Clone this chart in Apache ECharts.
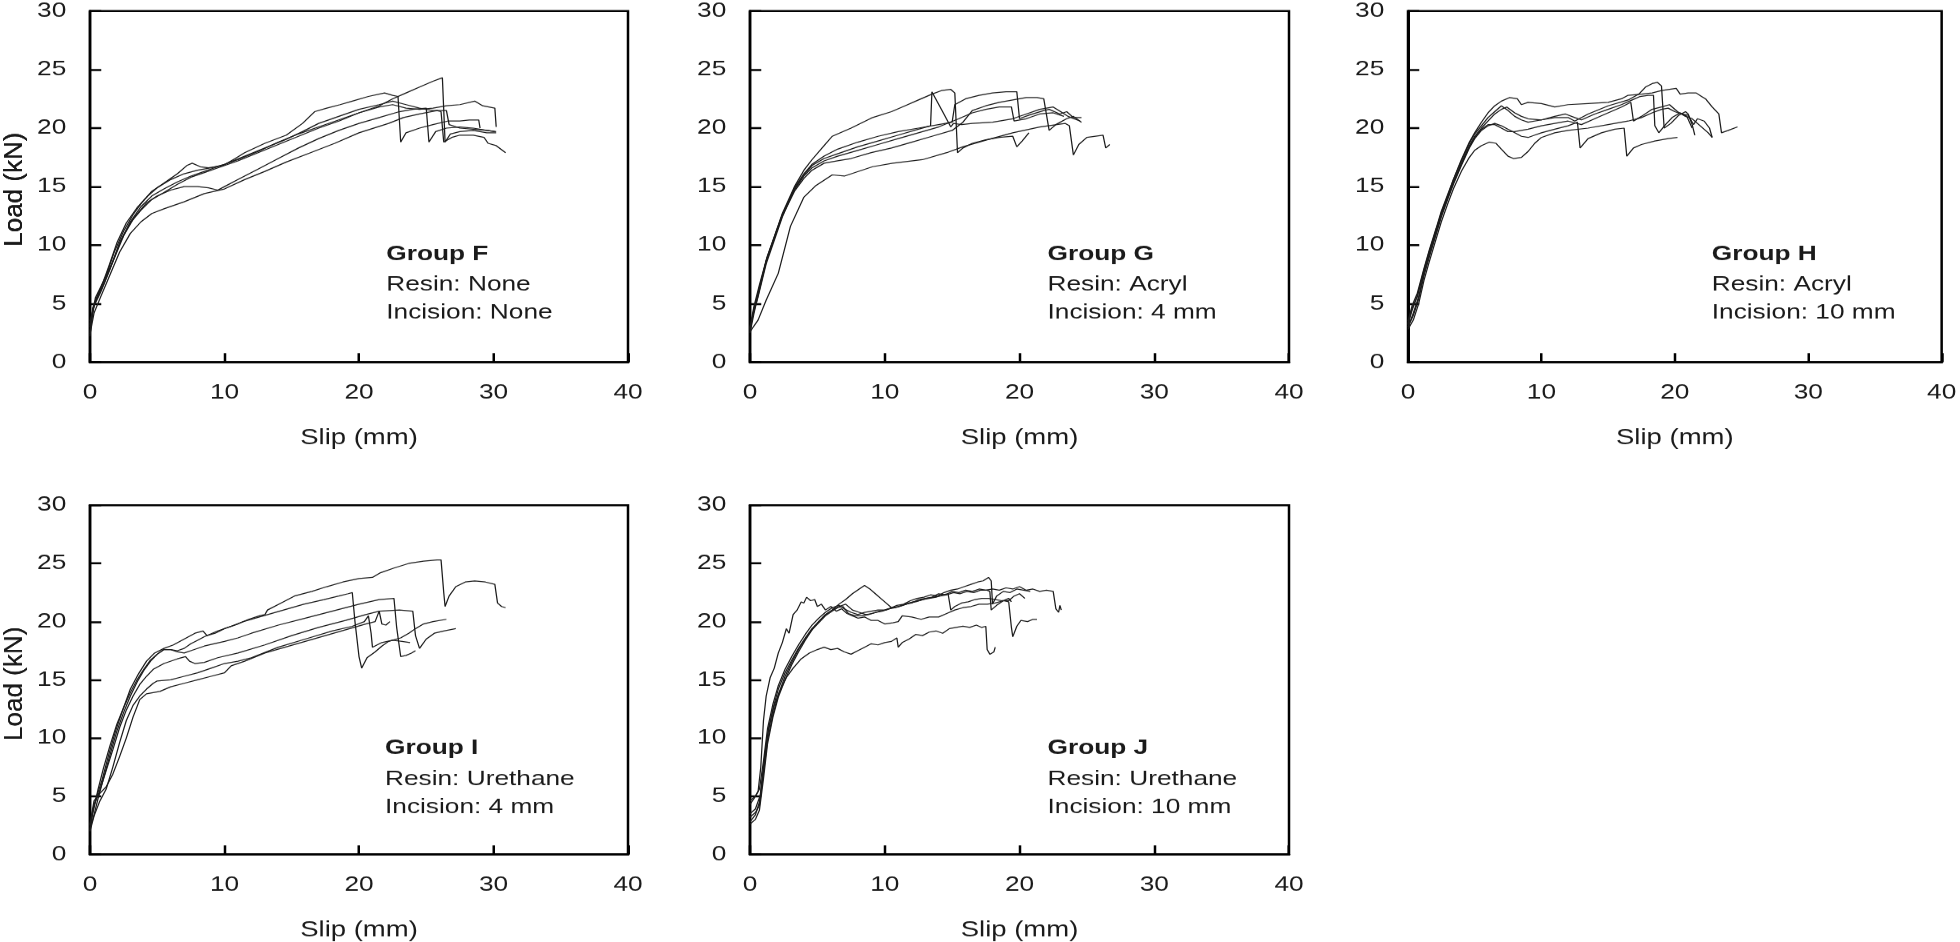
<!DOCTYPE html>
<html><head><meta charset="utf-8">
<script src="https://cdn.jsdelivr.net/npm/echarts@6/dist/echarts.min.js"></script>
<style>
html,body{margin:0;padding:0;background:#fff;overflow:hidden}
/* the reference figure is stretched 1.25x horizontally; reproduce that */
#c{width:1568px;height:942px;transform:scaleX(1.25);transform-origin:0 0}
</style>
</head><body><div id="c"></div>
<script>
// ---- Axis ticks ----
const xTicks = [0, 10, 20, 30, 40];
const yTicks = [0, 5, 10, 15, 20, 25, 30];
const xName = 'Slip (mm)';
const yName = 'Load (kN)';

// ---- Group labels ----
const labelsF = ['Group F', 'Resin: None', 'Incision: None'];
const labelsG = ['Group G', 'Resin: Acryl', 'Incision: 4 mm'];
const labelsH = ['Group H', 'Resin: Acryl', 'Incision: 10 mm'];
const labelsI = ['Group I', 'Resin: Urethane', 'Incision: 4 mm'];
const labelsJ = ['Group J', 'Resin: Urethane', 'Incision: 10 mm'];

// ---- Group F (slip mm, load kN) ----
const F1 = [[0,2.2],[0.2,4.6],[0.6,5.8],[1.2,7.4],[1.8,9.4],[2.5,11.2],[3.2,12.6],[3.9,13.7],[4.6,14.6],[5.5,15.3],[6.5,16.1],[7.2,16.8],[7.6,17.0],[8.2,16.7],[8.8,16.6],[9.9,16.8],[10.8,17.4],[11.5,17.9],[13.0,18.7],[14.6,19.4],[15.8,20.4],[16.7,21.4],[17.6,21.7],[18.6,22.0],[19.5,22.3],[20.7,22.7],[21.9,23.0],[22.5,22.8],[22.9,22.7],[23.1,18.8],[23.5,19.6],[24.5,20.0],[25.5,20.3],[26.6,20.6],[27.5,20.6],[28.2,20.7],[28.9,20.7],[29.0,20.0]];
const F2 = [[0,2.6],[0.3,4.8],[0.8,6.0],[1.5,8.0],[2.2,10.2],[3,11.9],[3.8,13.0],[4.6,13.9],[5.5,14.5],[6.5,15.2],[7.5,15.8],[8.5,16.2],[9.5,16.6],[11,17.2],[12.5,17.9],[14,18.6],[15.5,19.3],[17,20.0],[18.5,20.6],[20,21.3],[21.5,21.9],[22.5,22.5],[23.5,23.0],[24.5,23.5],[25.5,24.0],[26.2,24.3],[26.4,18.8],[26.8,19.5],[27.5,19.7],[28.5,19.8],[29.5,19.6],[30.2,19.6]];
const F3 = [[0,3.5],[0.4,5.2],[1,6.6],[1.6,8.3],[2.3,10.4],[3,12.0],[3.8,13.3],[4.6,14.2],[5.5,14.8],[6.5,15.4],[7.5,15.9],[8.5,16.3],[9.5,16.7],[11,17.3],[12.5,18.0],[14,18.8],[15.5,19.5],[17,20.1],[18.5,20.7],[20,21.3],[21.5,21.8],[22.5,22.0],[23.5,21.7],[24.5,21.6],[25.5,21.7],[26.5,21.9],[27.5,22.0],[28.6,22.3],[29.2,21.9],[30.1,21.7],[30.2,20.1]];
const F4 = [[0,3],[0.4,5.5],[1,6.9],[1.7,8.6],[2.5,10.8],[3.3,12.4],[4.2,13.6],[5,14.2],[6,14.7],[7,15.0],[8,15.0],[8.8,14.9],[9.5,14.7],[10,15.0],[11,15.6],[12.5,16.5],[14,17.4],[15.5,18.3],[17,19.1],[18.5,19.8],[20,20.4],[21.5,20.9],[23,21.4],[24,21.6],[25,21.7],[25.2,18.8],[25.7,19.7],[26.5,20.0],[27.5,20.1],[28.5,20.0],[29.5,19.8],[30.1,19.7]];
const F5 = [[0,2.4],[0.3,4.2],[0.8,5.6],[1.5,7.5],[2.2,9.4],[3,11.0],[3.8,12.0],[4.6,12.7],[5.5,13.1],[7,13.7],[8.5,14.4],[10,14.8],[11.5,15.6],[13,16.3],[14.6,17.1],[16.4,17.9],[18.2,18.7],[20,19.6],[22.2,20.4],[23.3,20.9],[24.5,21.2],[25.8,21.5],[26.1,21.4],[26.3,18.8],[26.9,19.2],[27.5,19.4],[28.5,19.4],[29.3,19.2],[29.6,18.7],[30.2,18.5],[30.9,17.9]];
const F6 = [[0,3.2],[0.3,5.0],[0.8,6.3],[1.4,8.2],[2.0,10.2],[2.7,11.9],[3.5,13.2],[4.3,14.2],[5,14.9],[6,15.6],[7,16.1],[8,16.4],[9,16.6],[10,16.9],[11.5,17.6],[13,18.3],[14.5,19.0],[15.8,19.7],[17,20.4],[18.5,21.0],[20,21.6],[21.5,22.0],[22.5,22.3],[23.5,22.0],[24.5,21.7],[25.5,21.5],[26.5,21.5],[26.7,20.3],[27.5,20.0],[28.5,19.9],[29.5,19.8],[30.2,19.7]];

// ---- Group G ----
const G1 = [[0,2.7],[0.3,4.6],[0.6,5.9],[1.2,8.7],[2.4,12.7],[3.3,15.0],[4.0,16.4],[4.6,17.3],[5.5,18.5],[6.1,19.3],[7.5,20.0],[9.1,20.9],[10.5,21.4],[11.5,21.9],[12.5,22.4],[13.5,22.9],[14.2,23.2],[14.9,23.3],[15.2,23.0],[15.4,17.9],[15.8,18.3],[16.5,18.7],[17.5,19.0],[18.5,19.2],[19.5,19.3],[19.8,18.4],[20.2,18.9],[20.7,19.6]];
const G2 = [[0,2.9],[0.3,4.4],[0.6,5.6],[1.2,8.4],[2.4,12.4],[3.3,14.8],[4.0,16.0],[4.6,16.8],[5.5,17.4],[6.5,17.8],[8,18.4],[9.5,18.9],[11,19.4],[12.5,19.9],[13.4,20.2],[13.5,23.1],[14.2,21.6],[14.9,20.1],[15.1,20.4],[15.7,20.3],[16.5,20.4],[18,20.5],[19.5,20.8],[20.5,21.2],[21.5,21.6],[22.5,21.8],[23.2,21.3],[23.6,21.0],[24.5,20.6]];
const G3 = [[0,2.5],[0.3,4.2],[0.6,5.7],[1.2,8.6],[2.4,12.6],[3.3,14.9],[4.0,16.1],[4.6,16.9],[5.5,17.6],[6.5,18.2],[8,18.8],[9.5,19.3],[11,19.7],[12.5,20.0],[14,20.3],[15,20.5],[15.2,22.0],[16,22.5],[17,22.8],[18,23.0],[19,23.1],[19.8,23.1],[20,20.8],[20.7,21.1],[21.8,21.5],[22.2,21.6],[23,21.2],[23.5,21.4],[24,20.9],[24.6,20.9]];
const G4 = [[0,2.8],[0.3,4.5],[0.7,6.4],[1.3,9.0],[2.4,12.5],[3.3,14.6],[4.0,15.7],[4.6,16.4],[5.5,17.0],[6.5,17.2],[7.5,17.4],[9,17.9],[10.5,18.3],[12,18.8],[13.5,19.3],[15,19.8],[15.8,20.5],[16.5,21.5],[17.5,21.9],[18.5,22.2],[19.5,22.4],[20.5,22.6],[21.3,22.6],[21.8,22.5],[22.2,19.8],[22.7,20.3],[23.5,20.8],[24,21.0],[24.6,20.5]];
const G5 = [[0,3],[0.3,4.8],[0.7,6.6],[1.3,9.1],[2.4,12.6],[3.3,14.7],[4.0,15.9],[4.6,16.6],[5.5,17.2],[6.5,17.6],[8,18.1],[9.5,18.6],[11,19.1],[12.5,19.6],[14,20.1],[15.5,20.8],[16.5,21.3],[17.5,21.6],[18.5,21.8],[19.4,21.8],[19.6,20.6],[20.5,20.8],[21.5,21.2],[22.5,21.3],[23.3,21.0]];
const G6 = [[0,2.6],[0.6,3.6],[1.2,5.3],[2.1,7.6],[3.0,11.6],[4,14.1],[4.9,15.1],[6.1,16.0],[7,15.9],[9.1,16.7],[10.6,17.0],[12.8,17.3],[14.6,17.9],[15.8,18.4],[17.6,19.0],[19.5,19.6],[21.5,20.1],[23.4,20.4],[23.7,20.2],[24.0,17.7],[24.4,18.6],[25.0,19.2],[26.2,19.4],[26.4,18.3],[26.7,18.6]];

// ---- Group H ----
const H1 = [[0,3.2],[0.3,4.6],[0.7,5.6],[1.2,7.8],[1.6,9.4],[2.1,11.2],[2.5,12.8],[3.0,14.3],[3.4,15.6],[4.0,17.3],[4.6,18.8],[5.0,19.6],[5.5,20.5],[6.0,21.3],[6.5,21.9],[7.0,22.3],[7.6,22.6],[8.2,22.5],[8.5,22.0],[9.0,22.2],[10.0,22.1],[11.0,21.8],[12.0,22.0],[13.5,22.1],[15.0,22.2],[16.0,22.5],[16.5,22.8],[17.5,22.9],[18.3,23.0],[19.0,23.2],[20.1,23.4],[20.4,22.9],[21.0,23.0],[21.6,23.0],[22.0,22.7],[22.3,22.5],[22.8,21.8],[23.3,21.2],[23.5,19.6],[24.0,19.8],[24.7,20.1]];
const H2 = [[0,3.5],[0.3,4.8],[0.7,5.9],[1.2,8.0],[1.6,9.6],[2.1,11.4],[2.5,12.9],[3.0,14.4],[3.4,15.6],[4.0,17.2],[4.6,18.7],[5.0,19.5],[5.5,20.2],[6.0,20.9],[6.5,21.4],[7.0,21.9],[7.5,21.5],[8.0,21.0],[8.5,20.7],[9.0,20.5],[10.0,20.7],[11.0,20.9],[12.0,20.9],[12.5,20.6],[13.5,21.2],[15.0,21.9],[16.5,22.4],[17.3,22.9],[17.8,23.5],[18.3,23.8],[18.7,23.9],[19.0,23.6],[19.2,20.0],[19.7,20.4],[20.3,21.1],[20.8,21.4],[21.0,21.2],[21.3,20.3],[21.5,19.4]];
const H3 = [[0,3.0],[0.4,4.0],[0.8,5.4],[1.2,7.4],[1.6,9.0],[2.1,10.9],[2.5,12.4],[3.0,14.0],[3.4,15.2],[4.0,16.8],[4.6,18.3],[5.0,19.1],[5.5,19.8],[6.0,20.2],[6.5,20.4],[7.0,20.2],[7.5,19.9],[8.0,19.6],[8.5,19.3],[9.0,19.2],[9.5,19.4],[10.0,19.6],[11.0,19.9],[12.0,20.2],[12.7,20.5],[12.9,18.3],[13.5,19.1],[14.5,19.6],[15.5,19.9],[16.2,20.0],[16.4,17.6],[16.9,18.3],[17.5,18.6],[18.5,18.9],[19.5,19.1],[20.2,19.2]];
const H4 = [[0,2.8],[0.4,3.6],[0.8,5.0],[1.2,7.0],[1.6,8.6],[2.1,10.5],[2.5,12.0],[3.0,13.6],[3.4,14.8],[4.0,16.3],[4.6,17.5],[5.0,18.1],[5.5,18.5],[6.1,18.8],[6.6,18.7],[7.0,18.2],[7.5,17.6],[7.9,17.4],[8.5,17.5],[9.0,18.0],[9.5,18.7],[10.0,19.2],[11.0,19.6],[12.0,19.8],[13.5,20.0],[15.0,20.3],[16.5,20.6],[17.5,20.9],[18.3,21.3],[19.0,21.6],[19.5,21.7],[20.0,21.4],[20.5,21.2],[21.0,21.1],[21.4,20.3],[21.7,20.8],[22.2,20.6],[22.6,20.0],[22.8,19.2]];
const H5 = [[0,3.3],[0.3,4.4],[0.7,5.7],[1.2,7.9],[1.6,9.5],[2.1,11.3],[2.5,12.7],[3.0,14.2],[3.4,15.4],[4.0,17.0],[4.6,18.5],[5.0,19.3],[5.5,20.0],[6.0,20.6],[6.5,21.2],[7.0,21.6],[7.4,21.8],[8.0,21.3],[8.5,21.0],[9.0,20.8],[10.0,20.7],[11.0,21.0],[11.8,21.2],[12.5,20.9],[13.0,20.7],[14.0,21.2],[15.0,21.6],[16.0,22.0],[16.8,22.4],[17.4,22.7],[18.0,22.8],[18.4,22.8],[18.5,20.2],[18.8,19.6],[19.3,20.3],[19.8,20.9],[20.4,21.3],[20.9,21.0],[21.3,20.0]];
const H6 = [[0,3.0],[0.4,4.2],[0.8,5.6],[1.2,7.6],[1.6,9.2],[2.1,11.0],[2.5,12.6],[3.0,14.1],[3.4,15.3],[4.0,16.9],[4.6,18.4],[5.0,19.2],[5.5,19.9],[6.0,20.3],[6.5,20.3],[7.0,20.0],[7.5,19.7],[8.0,19.7],[9.0,19.9],[10.0,20.2],[11.0,20.4],[12.0,20.6],[13.0,20.3],[14.0,20.8],[15.0,21.3],[16.0,21.8],[16.7,22.2],[16.9,20.6],[17.5,21.0],[18.3,21.6],[19.0,21.8],[19.6,22.0],[20.2,21.4],[20.8,21.0],[21.3,20.8],[21.9,20.2],[22.5,19.6],[22.8,19.2]];

// ---- Group I ----
const I1 = [[0,2.0],[0.2,3.8],[0.5,5.0],[0.9,6.4],[1.4,8.6],[1.9,10.6],[2.4,12.3],[3.0,14.2],[3.6,15.5],[4.2,16.6],[4.8,17.3],[5.5,17.7],[6.2,18.0],[7.0,18.5],[7.8,19.0],[8.4,19.2],[8.7,18.8],[9.3,19.0],[10.0,19.4],[11.0,19.8],[11.8,20.2],[12.6,20.5],[13.0,20.6],[13.2,21.0],[14.2,21.6],[15.2,22.2],[16.5,22.6],[17.6,23.0],[18.8,23.4],[20.0,23.7],[21.0,23.8],[21.6,24.2],[22.6,24.6],[23.7,25.0],[24.8,25.2],[25.8,25.3],[26.1,25.3],[26.3,22.5],[26.4,21.3],[26.7,22.2],[27.2,23.0],[27.9,23.4],[28.6,23.5],[29.4,23.4],[30.1,23.2],[30.3,21.6],[30.6,21.3],[30.9,21.2]];
const I2 = [[0,2.4],[0.3,4.0],[0.6,5.6],[1.0,7.4],[1.5,9.4],[2.0,11.2],[2.5,12.6],[3.0,13.9],[3.5,15.0],[4.0,15.9],[4.5,16.7],[5.0,17.2],[5.5,17.6],[6.0,17.6],[6.5,17.5],[7.0,17.7],[7.5,18.1],[8.0,18.4],[8.5,18.7],[9.5,19.2],[10.5,19.6],[11.4,20.0],[12.9,20.5],[14.4,21.0],[15.9,21.5],[17.4,21.9],[18.5,22.2],[19.2,22.4],[19.5,22.5],[19.7,20.0],[20.0,17.0],[20.2,16.0],[20.6,16.9],[21.2,17.4],[21.7,17.9],[22.2,18.3],[23.1,18.6],[23.7,19.0],[24.2,19.4],[24.8,19.8],[25.5,20.0],[26.5,20.2]];
const I3 = [[0,2.2],[0.3,3.4],[0.6,4.8],[1.0,6.5],[1.5,8.6],[2.0,10.6],[2.5,12.2],[3.0,13.6],[3.5,14.8],[4.0,15.8],[4.5,16.6],[5.0,17.2],[5.5,17.6],[6.0,17.6],[6.5,17.4],[7.0,17.3],[7.5,17.5],[8.5,17.9],[10.0,18.3],[11.0,18.6],[12.0,19.0],[14.0,19.7],[16.0,20.3],[18.0,20.9],[20.0,21.5],[21.5,21.9],[22.6,22.0],[22.8,19.5],[23.1,17.0],[23.5,17.1],[23.9,17.3],[24.2,17.5]];
const I4 = [[0,2.5],[0.3,4.2],[0.7,5.4],[1.2,7.2],[1.7,9.0],[2.2,10.9],[2.7,12.4],[3.2,13.6],[3.7,14.6],[4.2,15.3],[4.7,15.9],[5.5,16.4],[6.5,16.8],[7.1,17.0],[7.4,16.6],[7.8,16.4],[8.5,16.5],[9.5,16.9],[11.0,17.3],[13.0,18.0],[15.0,18.8],[17.0,19.5],[19.0,20.1],[20.5,20.6],[21.5,20.9],[23.0,21.0],[24.0,20.9],[24.2,18.8],[24.5,17.7],[25.0,18.5],[25.6,19.0],[26.3,19.2],[27.2,19.4]];
const I5 = [[0,2.0],[0.3,3.3],[0.7,4.5],[1.2,5.6],[1.7,7.5],[2.2,9.6],[2.7,11.5],[3.2,12.8],[3.7,13.6],[4.2,14.2],[4.7,14.7],[5.0,14.9],[6.0,15.0],[7.0,15.3],[8.0,15.6],[9.0,16.0],[10.0,16.4],[11.0,16.6],[12.0,16.9],[14.0,17.8],[16.0,18.5],[18.0,19.2],[19.5,19.6],[20.4,20.0],[20.7,20.5],[20.9,19.0],[21.0,17.8],[21.7,18.2],[22.5,18.4],[23.2,18.3],[23.8,18.2]];
const I6 = [[0,2.6],[0.3,4.6],[0.7,5.2],[1.2,5.8],[1.7,6.9],[2.2,8.4],[2.7,10.0],[3.2,11.8],[3.7,13.3],[4.2,13.8],[4.7,13.9],[5.2,14.0],[6.0,14.4],[7.0,14.7],[8.0,15.0],[9.0,15.3],[10.0,15.6],[10.5,16.2],[11.5,16.6],[13.0,17.3],[14.5,17.8],[16.0,18.3],[17.5,18.8],[19.0,19.3],[20.5,19.8],[21.2,20.0],[21.5,20.9],[21.7,19.8],[22.0,19.7],[22.3,20.0]];

// ---- Group J ----
const J1 = [[0,4.3],[0.3,4.8],[0.6,5.4],[0.8,7.5],[1.0,11.5],[1.2,13.6],[1.5,15.2],[1.8,16.0],[2.1,17.3],[2.4,18.2],[2.7,19.4],[2.9,19.0],[3.2,20.6],[3.5,21.0],[3.8,21.7],[4.0,21.6],[4.2,22.1],[4.5,21.8],[4.8,21.9],[5.0,21.3],[5.3,21.5],[5.6,21.0],[6.0,21.3],[6.4,20.9],[6.8,21.1],[7.2,20.7],[7.6,20.5],[8.0,20.3],[8.5,20.4],[9.0,20.1],[9.5,20.1],[10.0,19.8],[10.6,19.9],[11.0,20.0],[11.3,20.5],[12.0,20.4],[12.7,20.2],[13.3,20.4],[14.0,20.4],[14.6,20.7],[15.2,21.0],[15.8,21.2],[16.4,21.3],[17.0,21.5],[17.6,21.5],[18.2,21.6],[18.8,21.8],[19.2,21.7],[19.4,19.5],[19.5,18.7],[19.8,19.6],[20.1,20.1],[20.6,20.0],[21.0,20.2],[21.3,20.2]];
const J2 = [[0,3.5],[0.4,3.9],[0.8,5.2],[1.1,8.5],[1.4,11.0],[1.8,12.8],[2.2,14.0],[2.7,15.2],[3.2,16.0],[3.8,16.8],[4.4,17.3],[5.0,17.6],[5.5,17.8],[6.0,17.6],[6.5,17.7],[7.0,17.4],[7.5,17.2],[8.0,17.5],[8.5,17.8],[9.0,18.1],[9.5,18.0],[10.0,18.2],[10.5,18.3],[10.9,18.6],[11.0,17.8],[11.3,18.2],[11.8,18.5],[12.3,18.9],[12.8,18.8],[13.3,19.1],[13.8,19.2],[14.3,19.0],[14.8,19.4],[15.3,19.5],[15.8,19.6],[16.3,19.5],[16.8,19.7],[17.2,19.5],[17.5,19.6],[17.6,17.6],[17.8,17.2],[18.1,17.4],[18.2,17.8]];
const J3 = [[0,2.8],[0.4,3.4],[0.7,4.5],[1.0,7.5],[1.3,10.2],[1.7,12.5],[2.1,14.2],[2.6,15.6],[3.1,16.7],[3.6,17.7],[4.1,18.6],[4.6,19.4],[5.1,20.0],[5.6,20.6],[6.1,21.0],[6.6,21.5],[7.1,21.9],[7.6,22.4],[8.1,22.8],[8.5,23.1],[8.9,22.8],[9.3,22.4],[9.7,22.0],[10.1,21.6],[10.5,21.2],[10.9,21.4],[11.4,21.5],[11.9,21.8],[12.4,22.0],[12.9,22.1],[13.4,22.3],[13.9,22.2],[14.4,22.5],[14.9,22.7],[15.4,22.8],[15.9,23.0],[16.4,23.2],[16.9,23.4],[17.3,23.5],[17.7,23.8],[17.9,23.5],[18.0,21.5],[18.3,22.2],[18.8,22.6],[19.3,22.5],[19.8,22.8],[20.3,22.7],[20.8,22.6]];
const J4 = [[0,4.6],[0.4,5.0],[0.7,5.6],[1.0,8.0],[1.3,10.8],[1.7,12.9],[2.1,14.5],[2.6,15.9],[3.1,17.0],[3.6,18.0],[4.1,18.9],[4.6,19.7],[5.1,20.3],[5.6,20.8],[6.1,21.2],[6.6,21.4],[7.0,21.1],[7.5,20.8],[8.0,20.6],[8.5,20.8],[9.0,20.9],[9.5,21.0],[10.0,21.0],[10.5,21.2],[11.0,21.3],[11.5,21.5],[12.0,21.6],[12.5,21.9],[13.0,22.0],[13.5,22.1],[14.0,22.4],[14.5,22.3],[15.0,22.6],[15.5,22.5],[16.0,22.7],[16.5,22.6],[17.0,22.8],[17.5,22.7],[18.0,22.8],[18.5,22.7],[19.0,22.9],[19.5,22.8],[20.0,23.0],[20.5,22.7],[21.0,22.8],[21.5,22.6],[22.0,22.7],[22.5,22.6],[22.7,21.1],[22.9,20.8],[23.0,21.4],[23.1,21.0]];
const J5 = [[0,3.2],[0.4,3.6],[0.7,4.2],[1.0,7.0],[1.3,9.8],[1.7,12.0],[2.1,13.7],[2.6,15.3],[3.1,16.5],[3.6,17.6],[4.1,18.5],[4.6,19.3],[5.1,19.9],[5.6,20.5],[6.1,20.9],[6.5,21.2],[6.9,21.3],[7.3,20.7],[7.8,20.5],[8.3,20.5],[8.8,20.6],[9.3,20.8],[9.8,20.9],[10.3,21.1],[10.8,21.2],[11.3,21.4],[11.8,21.6],[12.3,21.7],[12.8,21.9],[13.3,22.0],[13.8,22.1],[14.3,22.3],[14.7,22.4],[14.9,21.0],[15.2,21.3],[15.7,21.6],[16.2,21.7],[16.7,21.9],[17.2,22.0],[17.7,22.0],[18.2,21.9],[18.7,21.8],[19.2,21.8],[19.6,22.2],[20.0,22.4],[20.4,22.0]];
const J6 = [[0,2.6],[0.4,3.0],[0.7,3.8],[1.0,6.5],[1.3,9.5],[1.7,11.8],[2.1,13.5],[2.6,15.0],[3.1,16.3],[3.6,17.4],[4.1,18.4],[4.6,19.3],[5.1,20.0],[5.6,20.6],[6.1,21.0],[6.6,21.3],[7.1,21.5],[7.6,21.0],[8.1,20.8],[8.6,20.6],[9.1,20.7],[9.6,20.9],[10.1,21.0],[10.6,21.2],[11.1,21.3],[11.6,21.5],[12.1,21.7],[12.6,21.8],[13.1,22.0],[13.6,22.1],[14.1,22.2],[14.6,22.3],[15.1,22.5],[15.6,22.4],[16.1,22.6],[16.6,22.5],[17.1,22.7],[17.6,22.7],[17.8,22.6],[17.9,21.0],[18.3,21.4],[18.8,21.8],[19.2,22.0],[19.4,21.7]];

// ---- Layout (in unstretched chart pixels; the page stretches x by 1.25) ----
const STRETCH = 1.25;
const FONT = '"Liberation Sans", Arial, sans-serif';
const TXT = '#1a1a1a';
const panels = [
  {left: 72,    top: 11,  width: 430.4, height: 351, curves: [F1,F2,F3,F4,F5,F6], labels: labelsF, tx: 237},
  {left: 600,   top: 11,  width: 431.2, height: 351, curves: [G1,G2,G3,G4,G5,G6], labels: labelsG, tx: 238},
  {left: 1126.4,top: 11,  width: 428.8, height: 351, curves: [H1,H2,H3,H4,H5,H6], labels: labelsH, tx: 243},
  {left: 72,    top: 505, width: 430.4, height: 351, curves: [I1,I2,I3,I4,I5,I6], labels: labelsI, tx: 236},
  {left: 600,   top: 505, width: 431.2, height: 351, curves: [J1,J2,J3,J4,J5,J6], labels: labelsJ, tx: 238}
];
const labelDy = [243, 274, 302];

const grid = [], xAxis = [], yAxis = [], series = [], graphic = [];
panels.forEach((p, i) => {
  grid.push({left: p.left, top: p.top, width: p.width, height: p.height, show: true,
    borderColor: '#000', borderWidth: 2, backgroundColor: 'transparent', containLabel: false});
  xAxis.push({gridIndex: i, type: 'value', min: xTicks[0], max: xTicks[xTicks.length-1],
    interval: xTicks[1]-xTicks[0],
    axisLine: {show: true, onZero: false, lineStyle: {color: '#000', width: 2}},
    axisTick: {show: true, inside: true, length: 9, lineStyle: {color: '#000', width: 2}},
    splitLine: {show: false},
    axisLabel: {fontSize: 21, color: TXT, fontFamily: FONT, margin: 20},
    name: xName, nameLocation: 'middle', nameGap: 65,
    nameTextStyle: {fontSize: 22, color: TXT, fontFamily: FONT}});
  yAxis.push({gridIndex: i, type: 'value', min: yTicks[0], max: yTicks[yTicks.length-1],
    interval: yTicks[1]-yTicks[0],
    axisLine: {show: true, onZero: false, lineStyle: {color: '#000', width: 2}},
    axisTick: {show: true, inside: true, length: 9, lineStyle: {color: '#000', width: 2}},
    splitLine: {show: false},
    axisLabel: {fontSize: 21, color: TXT, fontFamily: FONT, margin: 19}});
  p.curves.forEach(c => {
    series.push({type: 'line', xAxisIndex: i, yAxisIndex: i, data: c, showSymbol: false,
      symbol: 'none', animation: false, z: 1,
      lineStyle: {color: '#1c1c1c', width: 1}});
  });
  // vertical axis title (not stretched in the reference)
  graphic.push({type: 'text', z: 10, x: 12, y: p.top + p.height / 2 + 3,
    rotation: Math.PI / 2, scaleY: 1 / STRETCH,
    style: {text: yName, align: 'center', verticalAlign: 'middle',
      font: '26px ' + FONT, fill: TXT}});
  p.labels.forEach((t, k) => {
    graphic.push({type: 'text', z: 10, style: {
      text: t, x: p.left + p.tx, y: p.top + labelDy[k],
      textVerticalAlign: 'middle', verticalAlign: 'middle',
      font: (k === 0 ? 'bold ' : '') + '21px ' + FONT, fill: TXT}});
  });
});

const chart = echarts.init(document.getElementById('c'), null, {renderer: 'canvas', devicePixelRatio: 1.25});
chart.setOption({backgroundColor: '#fff', animation: false, grid, xAxis, yAxis, series, graphic});
</script></body></html>
